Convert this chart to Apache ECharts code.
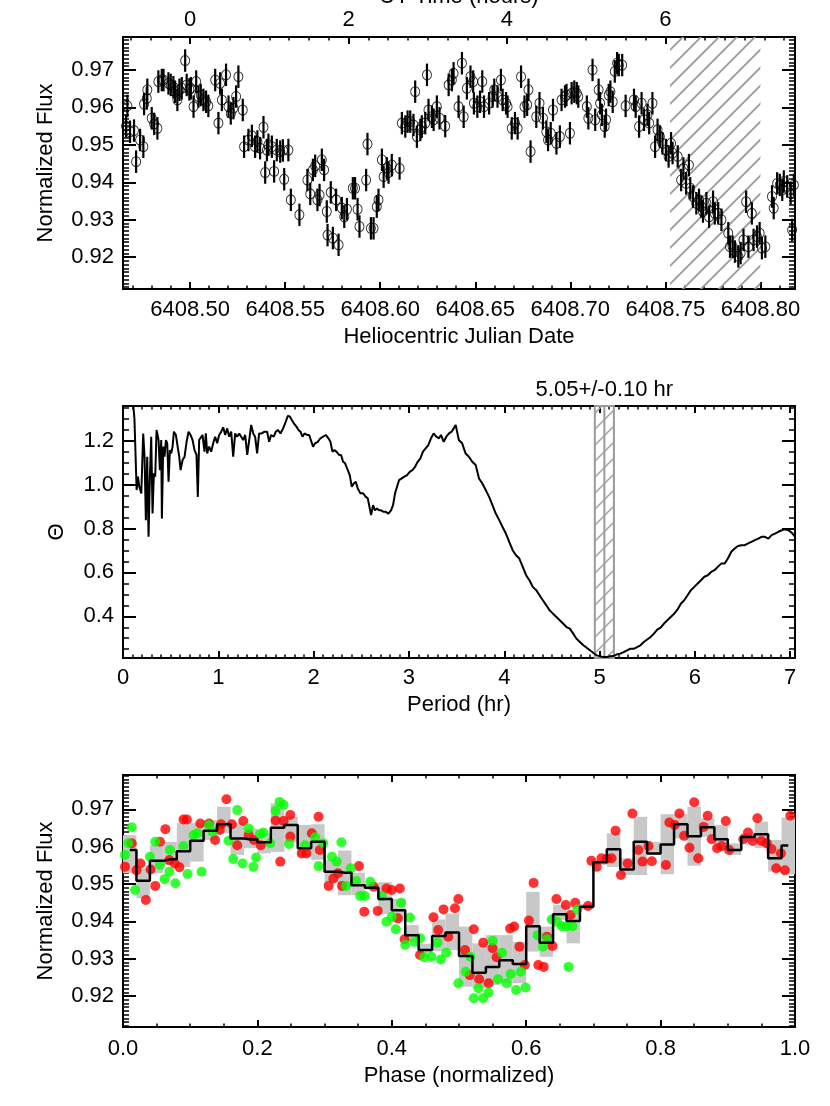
<!DOCTYPE html>
<html>
<head>
<meta charset="utf-8">
<script src="https://cdn.jsdelivr.net/npm/echarts@6/dist/echarts.min.js"></script>
<style>
  html, body { margin: 0; padding: 0; background: #fff; }
  #chart { width: 830px; height: 1106px; }
</style>
</head>
<body>
<div id="chart"></div>
<script>
// ---- panel 1: light curve (HJD vs normalized flux) ----
const hjd = [
  6408.4663, 6408.4670, 6408.4684, 6408.4705, 6408.4716, 6408.4737, 6408.4754, 6408.4758, 6408.4772, 6408.4775,
  6408.4798, 6408.4811, 6408.4828, 6408.4833, 6408.4851, 6408.4860, 6408.4886, 6408.4898, 6408.4912, 6408.4921,
  6408.4933, 6408.4944, 6408.4956, 6408.4974, 6408.4982, 6408.4996, 6408.5004, 6408.5018, 6408.5032, 6408.5044,
  6408.5056, 6408.5070, 6408.5084, 6408.5096, 6408.5132, 6408.5149, 6408.5158, 6408.5167, 6408.5189, 6408.5202,
  6408.5214, 6408.5228, 6408.5242, 6408.5254, 6408.5277, 6408.5284, 6408.5307, 6408.5325, 6408.5342, 6408.5354,
  6408.5368, 6408.5386, 6408.5395, 6408.5404, 6408.5412, 6408.5430, 6408.5442, 6408.5456, 6408.5474, 6408.5488,
  6408.5495, 6408.5517, 6408.5530, 6408.5575, 6408.5617, 6408.5632, 6408.5646, 6408.5658, 6408.5670, 6408.5681,
  6408.5693, 6408.5705, 6408.5719, 6408.5723, 6408.5740, 6408.5751, 6408.5768, 6408.5781, 6408.5798, 6408.5811,
  6408.5825, 6408.5856, 6408.5868, 6408.5881, 6408.5891, 6408.5926, 6408.5933, 6408.5951, 6408.5965, 6408.5982,
  6408.5991, 6408.6009, 6408.6018, 6408.6035, 6408.6044, 6408.6061, 6408.6102, 6408.6114, 6408.6132, 6408.6144,
  6408.6158, 6408.6175, 6408.6184, 6408.6193, 6408.6211, 6408.6219, 6408.6237, 6408.6246, 6408.6254, 6408.6272,
  6408.6281, 6408.6298, 6408.6312, 6408.6342, 6408.6360, 6408.6377, 6408.6386, 6408.6412, 6408.6430, 6408.6439,
  6408.6456, 6408.6475, 6408.6489, 6408.6493, 6408.6511, 6408.6525, 6408.6537, 6408.6546, 6408.6573, 6408.6591,
  6408.6600, 6408.6617, 6408.6635, 6408.6644, 6408.6662, 6408.6670, 6408.6692, 6408.6709, 6408.6723, 6408.6741,
  6408.6759, 6408.6773, 6408.6780, 6408.6791, 6408.6821, 6408.6838, 6408.6856, 6408.6874, 6408.6883, 6408.6897,
  6408.6909, 6408.6927, 6408.6945, 6408.6954, 6408.6972, 6408.6980, 6408.6998, 6408.7007, 6408.7021, 6408.7034,
  6408.7042, 6408.7087, 6408.7095, 6408.7117, 6408.7131, 6408.7149, 6408.7157, 6408.7166, 6408.7181, 6408.7188,
  6408.7202, 6408.7211, 6408.7223, 6408.7234, 6408.7246, 6408.7255, 6408.7273, 6408.7291, 6408.7335, 6408.7344,
  6408.7362, 6408.7375, 6408.7388, 6408.7406, 6408.7415, 6408.7432, 6408.7446, 6408.7459, 6408.7471, 6408.7485,
  6408.7503, 6408.7517, 6408.7530, 6408.7538, 6408.7565, 6408.7583, 6408.7595, 6408.7609, 6408.7624, 6408.7631,
  6408.7645, 6408.7663, 6408.7677, 6408.7689, 6408.7698, 6408.7716, 6408.7730, 6408.7751, 6408.7760, 6408.7778,
  6408.7795, 6408.7831, 6408.7840, 6408.7854, 6408.7866, 6408.7884, 6408.7896, 6408.7911, 6408.7925, 6408.7937,
  6408.7955, 6408.7964, 6408.7982, 6408.7996, 6408.8008, 6408.8026, 6408.8061, 6408.8070, 6408.8088, 6408.8102,
  6408.8115, 6408.8123, 6408.8141, 6408.8159, 6408.8167, 6408.8176
];
const flux = [
  0.9550, 0.9604, 0.9535, 0.9538, 0.9455, 0.9513, 0.9495, 0.9609, 0.9624, 0.9647,
  0.9571, 0.9556, 0.9544, 0.9669, 0.9673, 0.9673, 0.9664, 0.9660, 0.9654, 0.9642,
  0.9620, 0.9647, 0.9651, 0.9725, 0.9660, 0.9648, 0.9651, 0.9602, 0.9669, 0.9629,
  0.9633, 0.9620, 0.9615, 0.9604, 0.9673, 0.9558, 0.9664, 0.9620, 0.9687, 0.9602,
  0.9584, 0.9598, 0.9629, 0.9682, 0.9593, 0.9495, 0.9513, 0.9524, 0.9495, 0.9509,
  0.9491, 0.9547, 0.9426, 0.9486, 0.9500, 0.9495, 0.9429, 0.9486, 0.9482, 0.9485,
  0.9408, 0.9486, 0.9353, 0.9313, 0.9406, 0.9369, 0.9433, 0.9444, 0.9353, 0.9366,
  0.9460, 0.9433, 0.9322, 0.9259, 0.9373, 0.9251, 0.9353, 0.9233, 0.9331, 0.9308,
  0.9328, 0.9384, 0.9384, 0.9328, 0.9282, 0.9406, 0.9502, 0.9277, 0.9277, 0.9335,
  0.9353, 0.9460, 0.9415, 0.9437, 0.9426, 0.9446, 0.9437, 0.9558, 0.9549, 0.9562,
  0.9562, 0.9553, 0.9642, 0.9522, 0.9540, 0.9549, 0.9558, 0.9687, 0.9593, 0.9575,
  0.9567, 0.9602, 0.9571, 0.9550, 0.9660, 0.9673, 0.9691, 0.9602, 0.9718, 0.9575,
  0.9651, 0.9682, 0.9669, 0.9611, 0.9602, 0.9615, 0.9669, 0.9602, 0.9611, 0.9629,
  0.9647, 0.9629, 0.9673, 0.9620, 0.9611, 0.9602, 0.9544, 0.9558, 0.9544, 0.9682,
  0.9602, 0.9607, 0.9647, 0.9482, 0.9575, 0.9611, 0.9571, 0.9535, 0.9513, 0.9531,
  0.9593, 0.9504, 0.9522, 0.9620, 0.9629, 0.9633, 0.9531, 0.9638, 0.9642, 0.9638,
  0.9629, 0.9602, 0.9571, 0.9700, 0.9567, 0.9647, 0.9611, 0.9580, 0.9549, 0.9567,
  0.9633, 0.9642, 0.9615, 0.9696, 0.9718, 0.9713, 0.9713, 0.9604, 0.9620, 0.9602,
  0.9549, 0.9611, 0.9567, 0.9580, 0.9558, 0.9611, 0.9495, 0.9540, 0.9522, 0.9504,
  0.9486, 0.9469, 0.9504, 0.9478, 0.9469, 0.9406, 0.9437, 0.9397, 0.9446, 0.9384,
  0.9362, 0.9344, 0.9353, 0.9335, 0.9322, 0.9344, 0.9308, 0.9348, 0.9317, 0.9317,
  0.9300, 0.9264, 0.9228, 0.9228, 0.9215, 0.9202, 0.9211, 0.9246, 0.9348, 0.9228,
  0.9317, 0.9246, 0.9255, 0.9264, 0.9224, 0.9228, 0.9362, 0.9331, 0.9397, 0.9393,
  0.9380, 0.9402, 0.9389, 0.9371, 0.9273, 0.9393
];
const fluxErr = 0.003;
const hatchHjd = [6408.7525, 6408.8000];
const hjdAtUT0 = 6408.5;
const hjdTicks = [6408.50, 6408.55, 6408.60, 6408.65, 6408.70, 6408.75, 6408.80];
const utTicks = [0, 2, 4, 6];
const fluxTicks = [0.92, 0.93, 0.94, 0.95, 0.96, 0.97];

// ---- panel 2: periodogram ----
const period = [
  0.10, 0.12, 0.143, 0.157, 0.171, 0.192, 0.212, 0.226, 0.240, 0.254, 0.268, 0.282, 0.296, 0.310, 0.324, 0.338,
  0.352, 0.373, 0.387, 0.401, 0.408, 0.422, 0.436, 0.450, 0.464, 0.478, 0.492, 0.506, 0.520, 0.534, 0.555, 0.576,
  0.590, 0.604, 0.625, 0.646, 0.667, 0.688, 0.709, 0.730, 0.750, 0.771, 0.785, 0.799, 0.813, 0.834, 0.855, 0.869,
  0.883, 0.904, 0.925, 0.946, 0.967, 0.988, 1.009, 1.030, 1.051, 1.072, 1.093, 1.114, 1.135, 1.156, 1.177, 1.198,
  1.219, 1.240, 1.261, 1.282, 1.303, 1.324, 1.345, 1.366, 1.386, 1.407, 1.428, 1.456, 1.484, 1.512, 1.533, 1.554,
  1.582, 1.603, 1.624, 1.652, 1.680, 1.708, 1.729, 1.750, 1.771, 1.792, 1.820, 1.841, 1.862, 1.883, 1.904, 1.932,
  1.953, 1.973, 1.994, 2.015, 2.043, 2.071, 2.099, 2.127, 2.155, 2.176, 2.197, 2.218, 2.239, 2.267, 2.288, 2.309,
  2.330, 2.351, 2.379, 2.400, 2.421, 2.442, 2.463, 2.491, 2.519, 2.547, 2.568, 2.589, 2.603, 2.623, 2.644, 2.665,
  2.686, 2.707, 2.735, 2.756, 2.784, 2.812, 2.833, 2.854, 2.875, 2.896, 2.924, 2.952, 2.980, 3.008, 3.036, 3.064,
  3.092, 3.120, 3.147, 3.175, 3.203, 3.231, 3.259, 3.287, 3.315, 3.336, 3.364, 3.392, 3.420, 3.448, 3.469, 3.490,
  3.523, 3.558, 3.594, 3.629, 3.664, 3.700, 3.735, 3.770, 3.805, 3.841, 3.876, 3.911, 3.947, 3.982, 4.017, 4.052,
  4.088, 4.123, 4.158, 4.194, 4.229, 4.264, 4.299, 4.335, 4.370, 4.405, 4.441, 4.476, 4.511, 4.547, 4.582, 4.617,
  4.652, 4.688, 4.723, 4.758, 4.794, 4.829, 4.864, 4.899, 4.935, 4.970, 5.005, 5.041, 5.076, 5.111, 5.146, 5.182,
  5.217, 5.252, 5.288, 5.323, 5.358, 5.393, 5.429, 5.464, 5.499, 5.535, 5.570, 5.605, 5.640, 5.676, 5.711, 5.746,
  5.782, 5.817, 5.852, 5.888, 5.923, 5.958, 5.993, 6.029, 6.064, 6.099, 6.135, 6.170, 6.205, 6.240, 6.276, 6.311,
  6.346, 6.382, 6.417, 6.452, 6.487, 6.523, 6.558, 6.593, 6.629, 6.664, 6.699, 6.735, 6.770, 6.805, 6.840, 6.876,
  6.911, 6.946, 6.982, 7.017, 7.052
];
const theta = [
  1.400, 1.300, 0.975, 1.036, 0.990, 0.960, 1.233, 1.127, 0.838, 1.127, 0.762, 1.036, 1.218, 0.868, 1.051, 1.036,
  1.249, 1.203, 1.066, 1.203, 0.845, 1.173, 1.127, 1.203, 1.188, 1.013, 1.157, 1.142, 1.173, 1.241, 1.226, 1.165,
  1.127, 1.066, 1.112, 1.127, 1.195, 1.241, 1.226, 1.203, 1.157, 1.135, 0.944, 1.203, 1.211, 1.226, 1.150, 1.233,
  1.142, 1.173, 1.150, 1.188, 1.218, 1.188, 1.226, 1.241, 1.261, 1.226, 1.256, 1.218, 1.241, 1.127, 1.233, 1.218,
  1.233, 1.218, 1.203, 1.226, 1.135, 1.203, 1.272, 1.233, 1.218, 1.142, 1.233, 1.233, 1.241, 1.241, 1.195, 1.226,
  1.218, 1.241, 1.249, 1.233, 1.256, 1.287, 1.313, 1.310, 1.294, 1.279, 1.264, 1.249, 1.241, 1.218, 1.233, 1.226,
  1.226, 1.218, 1.173, 1.188, 1.195, 1.211, 1.218, 1.226, 1.211, 1.195, 1.150, 1.157, 1.150, 1.135, 1.135, 1.104,
  1.097, 1.074, 1.043, 0.990, 1.005, 1.013, 0.982, 0.960, 0.960, 0.944, 0.937, 0.891, 0.861, 0.906, 0.883, 0.891,
  0.883, 0.883, 0.876, 0.876, 0.868, 0.883, 0.906, 0.960, 0.990, 1.020, 1.028, 1.036, 1.043, 1.058, 1.066, 1.081,
  1.104, 1.119, 1.150, 1.165, 1.180, 1.211, 1.233, 1.218, 1.211, 1.226, 1.195, 1.218, 1.233, 1.241, 1.256, 1.272,
  1.203, 1.188, 1.142, 1.127, 1.104, 1.089, 1.028, 1.005, 0.975, 0.944, 0.906, 0.868, 0.838, 0.807, 0.777, 0.739,
  0.701, 0.678, 0.663, 0.625, 0.587, 0.564, 0.534, 0.519, 0.496, 0.473, 0.450, 0.427, 0.412, 0.397, 0.382, 0.367,
  0.351, 0.344, 0.321, 0.298, 0.283, 0.268, 0.257, 0.245, 0.233, 0.222, 0.218, 0.214, 0.214, 0.218, 0.219, 0.227,
  0.230, 0.237, 0.245, 0.252, 0.252, 0.260, 0.268, 0.283, 0.294, 0.306, 0.321, 0.339, 0.348, 0.367, 0.382, 0.397,
  0.412, 0.430, 0.457, 0.473, 0.496, 0.519, 0.534, 0.549, 0.564, 0.580, 0.587, 0.602, 0.610, 0.625, 0.640, 0.640,
  0.663, 0.694, 0.709, 0.720, 0.724, 0.724, 0.732, 0.739, 0.747, 0.754, 0.762, 0.762, 0.754, 0.770, 0.777, 0.785,
  0.792, 0.796, 0.792, 0.780, 0.762
];
const bestPeriod = 5.05;
const periodErr = 0.10;
const periodLabel = '5.05+/-0.10 hr';
const periodTicks = [0, 1, 2, 3, 4, 5, 6, 7];
const thetaTicks = [0.4, 0.6, 0.8, 1.0, 1.2];

// ---- panel 3: phase-folded light curve ----
const redPhase = [
  0.003, 0.013, 0.020, 0.026, 0.034, 0.041, 0.048, 0.055, 0.063, 0.069, 0.077, 0.084, 0.090, 0.095, 0.115, 0.128,
  0.137, 0.144, 0.146, 0.154, 0.162, 0.170, 0.179, 0.187, 0.195, 0.205, 0.227, 0.234, 0.239, 0.249,
  0.249, 0.266, 0.273, 0.281, 0.291, 0.293, 0.306, 0.313, 0.320, 0.326, 0.351, 0.359, 0.373, 0.379, 0.392, 0.400,
  0.409, 0.412, 0.419, 0.442, 0.462, 0.469, 0.477, 0.484, 0.494, 0.499,
  0.509, 0.522, 0.516, 0.530, 0.536, 0.544, 0.550, 0.556, 0.576, 0.582, 0.590, 0.598, 0.604, 0.611, 0.618, 0.626,
  0.631, 0.639, 0.645, 0.659, 0.666, 0.673, 0.692, 0.697, 0.705, 0.712, 0.720, 0.727, 0.733, 0.741,
  0.751, 0.758, 0.767, 0.773, 0.782, 0.787, 0.808, 0.813, 0.821, 0.828, 0.835, 0.843, 0.850, 0.856, 0.864, 0.870,
  0.876, 0.884, 0.891, 0.897, 0.902, 0.923, 0.930, 0.937, 0.944, 0.950, 0.958, 0.965, 0.972, 0.979, 0.985, 0.993
];
const redFlux = [
  0.9546, 0.9609, 0.9537, 0.9555, 0.9457, 0.9539, 0.9495, 0.9613, 0.9647, 0.9564, 0.9555, 0.9545, 0.9673, 0.9673, 0.9662, 0.9662,
  0.9618, 0.9645, 0.9660, 0.9727, 0.9660, 0.9604, 0.9669, 0.9631, 0.9618, 0.9604, 0.9670, 0.9560, 0.9669, 0.9685,
  0.9627, 0.9582, 0.9582, 0.9636, 0.9680, 0.9591, 0.9495, 0.9515, 0.9529, 0.9495, 0.9548, 0.9426, 0.9493, 0.9428, 0.9488, 0.9484,
  0.9408, 0.9488, 0.9352, 0.9310, 0.9411, 0.9377, 0.9432, 0.9359, 0.9435, 0.9460,
  0.9323, 0.9379, 0.9256, 0.9245, 0.9343, 0.9234, 0.9328, 0.9304, 0.9381, 0.9386, 0.9332, 0.9283, 0.9402, 0.9503, 0.9283, 0.9278,
  0.9359, 0.9334, 0.9460, 0.9444, 0.9417, 0.9450, 0.9441, 0.9562, 0.9546, 0.9569, 0.9568, 0.9569, 0.9643, 0.9524,
  0.9555, 0.9689, 0.9591, 0.9560, 0.9602, 0.9561, 0.9551, 0.9665, 0.9658, 0.9689, 0.9629, 0.9597, 0.9719, 0.9569, 0.9653, 0.9683,
  0.9620, 0.9596, 0.9602, 0.9669, 0.9591, 0.9620, 0.9638, 0.9615, 0.9676, 0.9615, 0.9609, 0.9594, 0.9542, 0.9582, 0.9537, 0.9683
];
const greenPhase = [
  0.003, 0.008, 0.013, 0.018, 0.040, 0.048, 0.055, 0.062, 0.069, 0.070, 0.078, 0.090, 0.096, 0.105, 0.111, 0.117,
  0.128, 0.133, 0.157, 0.164, 0.170, 0.178, 0.187, 0.194, 0.198, 0.204, 0.209, 0.219, 0.227, 0.233, 0.239, 0.247,
  0.271, 0.286, 0.291, 0.298, 0.311, 0.318, 0.325, 0.332, 0.339, 0.347, 0.353, 0.360, 0.368, 0.385, 0.392, 0.400,
  0.406, 0.414, 0.420, 0.427, 0.434, 0.442, 0.448, 0.459, 0.468, 0.473, 0.481, 0.499,
  0.510, 0.517, 0.522, 0.529, 0.536, 0.544, 0.550, 0.558, 0.564, 0.571, 0.577, 0.585, 0.592, 0.599, 0.617, 0.625,
  0.631, 0.638, 0.646, 0.653, 0.660, 0.663, 0.669, 0.676
];
const greenFlux = [
  0.9578, 0.9609, 0.9652, 0.9484, 0.9573, 0.9613, 0.9551, 0.9513, 0.9533, 0.9591, 0.9502, 0.9602, 0.9527, 0.9631, 0.9636, 0.9533,
  0.9658, 0.9640, 0.9616, 0.9567, 0.9698, 0.9555, 0.9649, 0.9546, 0.9571, 0.9634, 0.9638, 0.9609, 0.9696, 0.9720, 0.9712, 0.9607,
  0.9604, 0.9625, 0.9548, 0.9609, 0.9573, 0.9560, 0.9612, 0.9495, 0.9542, 0.9508, 0.9468, 0.9468, 0.9506, 0.9468, 0.9399, 0.9412,
  0.9379, 0.9450, 0.9337, 0.9410, 0.9345, 0.9355, 0.9304, 0.9305, 0.9343, 0.9298, 0.9316, 0.9234,
  0.9265, 0.9305, 0.9194, 0.9221, 0.9194, 0.9209, 0.9348, 0.9245, 0.9316, 0.9234, 0.9259, 0.9216, 0.9265, 0.9223, 0.9363, 0.9332,
  0.9352, 0.9405, 0.9399, 0.9387, 0.9386, 0.9278, 0.9387, 0.9432
];
const binPhase = [
  0.01, 0.03, 0.05, 0.07, 0.09, 0.11, 0.13, 0.15, 0.17, 0.19, 0.21, 0.23, 0.25, 0.27, 0.29, 0.31, 0.33,
  0.35, 0.37, 0.39, 0.41, 0.43, 0.45, 0.47, 0.49, 0.51, 0.53, 0.55, 0.57, 0.59, 0.61, 0.63, 0.65, 0.67,
  0.69, 0.71, 0.73, 0.75, 0.77, 0.79, 0.81, 0.83, 0.85, 0.87, 0.89, 0.91, 0.93, 0.95, 0.97, 0.99
];
const binFlux = [
  0.9591, 0.9509, 0.9562, 0.9566, 0.9588, 0.9616, 0.9643, 0.9660, 0.9622, 0.9619,
  0.9612, 0.9651, 0.9658, 0.9596, 0.9613, 0.9533, 0.9530, 0.9497, 0.9490, 0.9460,
  0.9430, 0.9363, 0.9323, 0.9361, 0.9370, 0.9307, 0.9262, 0.9278, 0.9296, 0.9286,
  0.9387, 0.9343, 0.9419, 0.9401, 0.9439, 0.9558, 0.9593, 0.9539, 0.9613, 0.9582,
  0.9606, 0.9660, 0.9628, 0.9652, 0.9620, 0.9591, 0.9626, 0.9633, 0.9569, 0.9603
];
const binLow = [
  0.9529, 0.9462, 0.9529, 0.9551, 0.9546, 0.9560, 0.9618, 0.9636, 0.9578, 0.9596,
  0.9582, 0.9586, 0.9611, 0.9573, 0.9565, 0.9505, 0.9470, 0.9470, 0.9485, 0.9420,
  0.9400, 0.9345, 0.9315, 0.9320, 0.9323, 0.9225, 0.9221, 0.9229, 0.9234, 0.9234,
  0.9319, 0.9305, 0.9404, 0.9341, 0.9432, 0.9551, 0.9546, 0.9524, 0.9524, 0.9578,
  0.9526, 0.9622, 0.9549, 0.9627, 0.9591, 0.9578, 0.9613, 0.9596, 0.9533, 0.9526
];
const binHigh = [
  0.9631, 0.9542, 0.9604, 0.9613, 0.9663, 0.9663, 0.9671, 0.9707, 0.9663, 0.9649,
  0.9636, 0.9716, 0.9680, 0.9658, 0.9660, 0.9565, 0.9590, 0.9530, 0.9500, 0.9505,
  0.9460, 0.9390, 0.9340, 0.9405, 0.9421, 0.9386, 0.9341, 0.9363, 0.9363, 0.9345,
  0.9479, 0.9386, 0.9444, 0.9421, 0.9446, 0.9564, 0.9636, 0.9569, 0.9680, 0.9613,
  0.9687, 0.9687, 0.9707, 0.9676, 0.9658, 0.9609, 0.9636, 0.9667, 0.9618, 0.9678
];
const binWidth = 0.02;
const phaseTicks = [0, 0.2, 0.4, 0.6, 0.8, 1.0];

// ---- axis ranges ----
const hjdRange = [6408.4647, 6408.8182];
const utRange = hjdRange.map(v => (v - hjdAtUT0) * 24);
const fluxTopRange = [0.9115, 0.9788];
const periodRange = [0, 7.05];
const thetaRange = [0.21, 1.358];
const phaseRange = [0, 1];
const fluxBotRange = [0.9117, 0.9792];

const FONT = '"Liberation Sans", Arial, Helvetica, sans-serif';
const TEXT = { color: '#000', fontFamily: FONT, fontSize: 22 };

function steps(from, to, step) {
  const out = [];
  const n = Math.round((to - from) / step);
  for (let i = 0; i <= n; i++) out.push(Number((from + i * step).toFixed(6)));
  return out;
}

function hatch(size, color, width) {
  const c = document.createElement('canvas');
  c.width = c.height = size;
  const g = c.getContext('2d');
  g.strokeStyle = color;
  g.lineWidth = width;
  g.beginPath();
  g.moveTo(-1, size + 1); g.lineTo(size + 1, -1);
  g.moveTo(-3, 3); g.lineTo(3, -3);
  g.moveTo(size - 3, size + 3); g.lineTo(size + 3, size - 3);
  g.stroke();
  return { image: c, repeat: 'repeat' };
}

const xAxes = [];
const yAxes = [];

// one side of a panel frame: main axis (line, long ticks, labels) + overlaid minor-tick axis
function side(list, grid, position, range, major, minor, lens, label) {
  const base = {
    type: 'value', gridIndex: grid, position, min: range[0], max: range[1],
    splitLine: { show: false }, silent: true
  };
  list.push(Object.assign({}, base, {
    axisLine: { show: true, onZero: false, lineStyle: { color: '#000', width: 2 } },
    axisTick: { show: true, inside: true, length: lens[0], customValues: major, lineStyle: { color: '#000', width: 2 } },
    axisLabel: label
      ? Object.assign({ show: true, customValues: major, formatter: label.fmt, margin: label.margin }, TEXT)
      : { show: false },
    name: label ? label.name : '',
    nameLocation: 'middle',
    nameGap: label ? label.gap : 0,
    nameTextStyle: TEXT
  }));
  const idx = list.length - 1;
  list.push(Object.assign({}, base, {
    axisLine: { show: false, onZero: false },
    axisTick: { show: true, inside: true, length: lens[1], customValues: minor, lineStyle: { color: '#000', width: 1.5 } },
    axisLabel: { show: false }
  }));
  return idx;
}

const f2 = v => v.toFixed(2);
const f1 = v => v.toFixed(1);
const f0 = v => v.toFixed(0);

// panel 1
const xHjd = side(xAxes, 0, 'bottom', hjdRange, hjdTicks, steps(6408.47, 6408.81, 0.01), [7, 3.5],
  { fmt: f2, margin: 10, name: 'Heliocentric Julian Date', gap: 37 });
side(xAxes, 0, 'top', utRange, utTicks, steps(-0.75, 7.5, 0.25), [7, 3.5],
  { fmt: f0, margin: 6, name: 'UT Time (hours)', gap: 28 });
const yFluxTop = side(yAxes, 0, 'left', fluxTopRange, fluxTicks, steps(0.912, 0.978, 0.001), [13, 6],
  { fmt: f2, margin: 9, name: 'Normalized Flux', gap: 66 });
side(yAxes, 0, 'right', fluxTopRange, fluxTicks, steps(0.912, 0.978, 0.001), [13, 6], null);

// panel 2
const xPeriod = side(xAxes, 1, 'bottom', periodRange, periodTicks, steps(0, 7, 0.1), [7, 3.5],
  { fmt: f0, margin: 9, name: 'Period (hr)', gap: 36 });
side(xAxes, 1, 'top', periodRange, periodTicks, steps(0, 7, 0.1), [7, 3.5], null);
const yTheta = side(yAxes, 1, 'left', thetaRange, thetaTicks, steps(0.25, 1.35, 0.05), [13, 6],
  { fmt: f1, margin: 9, name: 'Θ', gap: 55 });
side(yAxes, 1, 'right', thetaRange, thetaTicks, steps(0.25, 1.35, 0.05), [13, 6], null);

// panel 3
const xPhase = side(xAxes, 2, 'bottom', phaseRange, phaseTicks, steps(0, 1, 0.05), [7, 3.5],
  { fmt: f1, margin: 11, name: 'Phase (normalized)', gap: 38 });
side(xAxes, 2, 'top', phaseRange, phaseTicks, steps(0, 1, 0.05), [7, 3.5], null);
const yFluxBot = side(yAxes, 2, 'left', fluxBotRange, fluxTicks, steps(0.912, 0.979, 0.001), [13, 6],
  { fmt: f2, margin: 9, name: 'Normalized Flux', gap: 66 });
side(yAxes, 2, 'right', fluxBotRange, fluxTicks, steps(0.912, 0.979, 0.001), [13, 6], null);

const lightCurve = hjd.map((t, i) => [t, flux[i]]);

const chart = echarts.init(document.getElementById('chart'), null, { renderer: 'canvas' });

const gridBase = { left: 123, right: 35, height: 252, containLabel: false, outerBoundsMode: 'none' };

chart.setOption({
  animation: false,
  backgroundColor: '#fff',
  grid: [
    Object.assign({ top: 37 }, gridBase),
    Object.assign({ top: 406 }, gridBase),
    Object.assign({ top: 775 }, gridBase)
  ],
  xAxis: xAxes,
  yAxis: yAxes,
  series: [
    {
      // excluded time range
      type: 'custom', xAxisIndex: xHjd, yAxisIndex: yFluxTop, z: 1, silent: true,
      encode: { x: [0, 1] },
      data: [hatchHjd],
      renderItem(params, api) {
        const a = api.coord([api.value(0), fluxTopRange[1]]);
        const b = api.coord([api.value(1), fluxTopRange[0]]);
        return {
          type: 'rect',
          shape: { x: a[0], y: a[1], width: b[0] - a[0], height: b[1] - a[1] },
          style: { fill: hatch(18, '#9a9a9a', 1.8) }
        };
      }
    },
    {
      type: 'custom', xAxisIndex: xHjd, yAxisIndex: yFluxTop, z: 3, silent: true, clip: true,
      data: lightCurve,
      renderItem(params, api) {
        const t = api.value(0), f = api.value(1);
        const hi = api.coord([t, f + fluxErr]);
        const lo = api.coord([t, f - fluxErr]);
        return {
          type: 'line',
          shape: { x1: hi[0], y1: hi[1], x2: lo[0], y2: lo[1] },
          style: { stroke: '#000', lineWidth: 2.2 }
        };
      }
    },
    {
      type: 'scatter', xAxisIndex: xHjd, yAxisIndex: yFluxTop, z: 4, silent: true,
      data: lightCurve,
      symbol: 'circle', symbolSize: [9, 10],
      itemStyle: { color: 'rgba(0,0,0,0)', borderColor: '#000', borderWidth: 1 }
    },
    {
      // best period +/- error
      type: 'custom', xAxisIndex: xPeriod, yAxisIndex: yTheta, z: 1, silent: true, clip: false,
      encode: { x: [0, 1, 2] },
      data: [[bestPeriod - periodErr, bestPeriod + periodErr, bestPeriod]],
      renderItem(params, api) {
        const a = api.coord([api.value(0), thetaRange[1]]);
        const b = api.coord([api.value(1), thetaRange[0]]);
        const c = api.coord([api.value(2), thetaRange[1]]);
        return {
          type: 'group',
          children: [
            {
              type: 'rect',
              shape: { x: a[0], y: a[1], width: b[0] - a[0], height: b[1] - a[1] },
              style: { fill: hatch(16, '#a0a0a0', 1.5), stroke: '#9a9a9a', lineWidth: 2 }
            },
            {
              type: 'line',
              shape: { x1: c[0], y1: a[1], x2: c[0], y2: b[1] },
              style: { stroke: '#9a9a9a', lineWidth: 2 }
            },
            {
              type: 'text', x: c[0], y: a[1] - 5,
              style: {
                text: periodLabel, align: 'center', verticalAlign: 'bottom',
                fill: '#000', fontSize: 22, fontFamily: FONT
              }
            }
          ]
        };
      }
    },
    {
      type: 'line', xAxisIndex: xPeriod, yAxisIndex: yTheta, z: 3, silent: true,
      data: period.map((p, i) => [p, theta[i]]),
      showSymbol: false,
      lineStyle: { color: '#000', width: 2 }
    },
    {
      type: 'custom', xAxisIndex: xPhase, yAxisIndex: yFluxBot, z: 1, silent: true,
      encode: { x: 0, y: [1, 2] },
      data: binPhase.map((p, i) => [p, binLow[i], binHigh[i]]),
      renderItem(params, api) {
        const p = api.value(0);
        const a = api.coord([p - binWidth / 2, api.value(2)]);
        const b = api.coord([p + binWidth / 2, api.value(1)]);
        return {
          type: 'rect',
          shape: { x: a[0], y: a[1], width: b[0] - a[0], height: b[1] - a[1] },
          style: { fill: '#c8c8c8' }
        };
      }
    },
    {
      type: 'scatter', xAxisIndex: xPhase, yAxisIndex: yFluxBot, z: 2, silent: true,
      data: redPhase.map((p, i) => [p, redFlux[i]]),
      symbol: 'circle', symbolSize: 10,
      itemStyle: { color: '#ff0000' }
    },
    {
      type: 'scatter', xAxisIndex: xPhase, yAxisIndex: yFluxBot, z: 3, silent: true,
      data: greenPhase.map((p, i) => [p, greenFlux[i]]),
      symbol: 'circle', symbolSize: 10,
      itemStyle: { color: '#00ff00' }
    },
    {
      type: 'line', xAxisIndex: xPhase, yAxisIndex: yFluxBot, z: 4, silent: true,
      data: binPhase.map((p, i) => [p, binFlux[i]]),
      step: 'middle', showSymbol: false,
      lineStyle: { color: '#000', width: 2.5 }
    }
  ]
});

window.addEventListener('resize', () => chart.resize());
</script>
</body>
</html>
